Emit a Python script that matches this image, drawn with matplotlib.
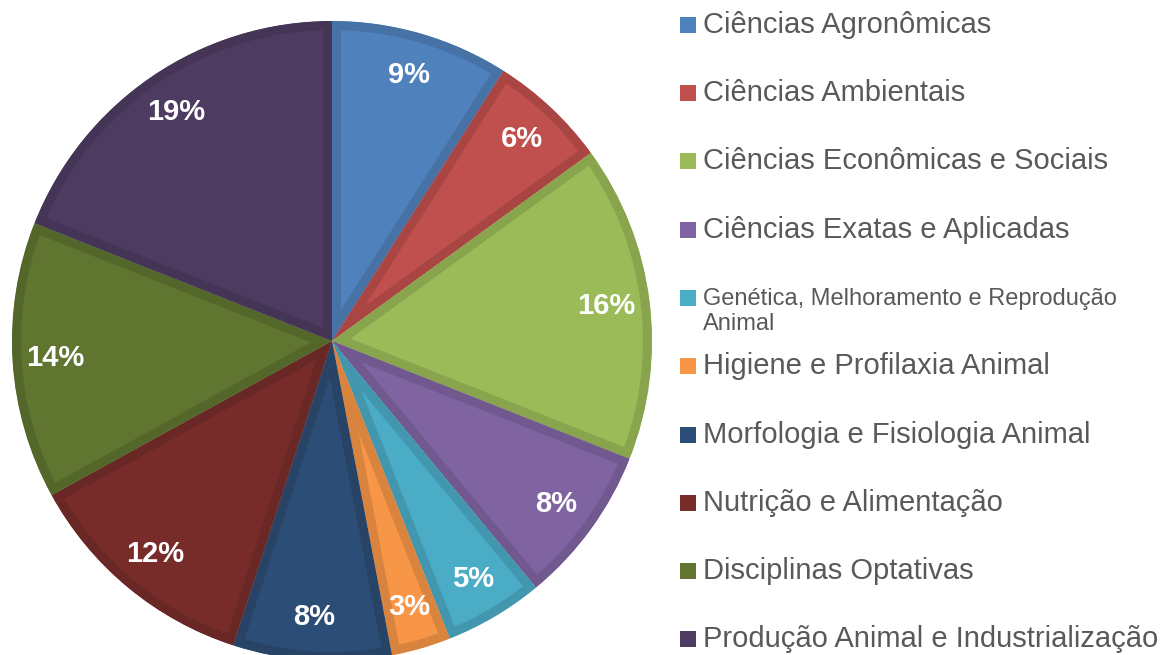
import matplotlib
matplotlib.use("Agg")
import matplotlib.pyplot as plt
from matplotlib.patches import Rectangle
import matplotlib.colors as mcolors

categories = [
    "Ciências Agronômicas",
    "Ciências Ambientais",
    "Ciências Econômicas e Sociais",
    "Ciências Exatas e Aplicadas",
    "Genética, Melhoramento e Reprodução\nAnimal",
    "Higiene e Profilaxia Animal",
    "Morfologia e Fisiologia Animal",
    "Nutrição e Alimentação",
    "Disciplinas Optativas",
    "Produção Animal e Industrialização",
]
values = [9, 6, 16, 8, 5, 3, 8, 12, 14, 19]
colors = ["#4f81bd", "#c0504d", "#9bbb59", "#8064a2", "#4bacc6",
          "#f79646", "#2c4d75", "#772c2a", "#5f7530", "#4d3b62"]
legend_sizes = [21, 21, 21, 21, 17, 21, 21, 21, 21, 21]

plt.rcParams['font.family'] = ['Liberation Sans', 'DejaVu Sans']

W, H = 1163, 655
fig = plt.figure(figsize=(W / 100, H / 100), dpi=100)

cx, cy, r = 332, 341, 320
ax = fig.add_axes([(cx - r) / W, (H - cy - r) / H, 2 * r / W, 2 * r / H])
ax.set_axis_off()


def darker(c, f=0.88):
    rgb = mcolors.to_rgb(c)
    return tuple(v * f for v in rgb)


wedges, texts, autotexts = ax.pie(
    values, colors=colors, startangle=90, counterclock=False, radius=1,
    autopct=lambda p: f"{p:.0f}%", pctdistance=0.865,
    textprops=dict(color="white", fontsize=21, fontweight="bold"),
)
for w, c in zip(wedges, colors):
    w.set_edgecolor(darker(c))
    w.set_linewidth(13)
    w.set_clip_path(w)
    w.set_clip_on(True)
ax.set_xlim(-1, 1)
ax.set_ylim(-1, 1)
ax.set_aspect("equal")

# manual legend
row_y = [25, 93, 161, 230, 298, 366, 435, 503, 571, 639]
sq = 16
for cat, col, fs, yy in zip(categories, colors, legend_sizes, row_y):
    fig.patches.append(Rectangle((680 / W, (H - yy - sq / 2) / H), sq / W, sq / H,
                                 transform=fig.transFigure, facecolor=col,
                                 edgecolor="none"))
    if "\n" in cat:
        fig.text(703 / W, (H - yy - 13.5) / H, cat, fontsize=fs, color="#595959",
                 va="center", ha="left", linespacing=1.15)
    else:
        fig.text(703 / W, (H - yy) / H, cat, fontsize=fs, color="#595959",
                 va="center", ha="left")

fig.savefig("out.png", dpi=100)
